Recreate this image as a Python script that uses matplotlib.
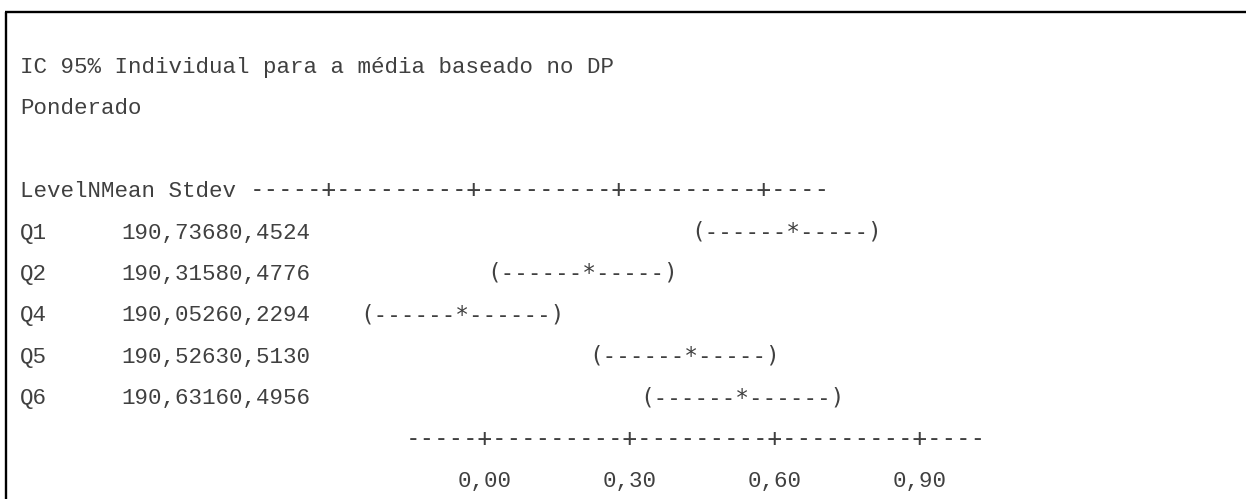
import matplotlib
matplotlib.use("Agg")
import matplotlib.pyplot as plt
from matplotlib import transforms

# Minitab one-way ANOVA text output: individual 95% CIs (pooled SD)
title_lines = ["IC 95% Individual para a média baseado no DP", "Ponderado"]
header_label = "LevelNMean Stdev "
axis_rule = "-----+---------+---------+---------+----"

levels = ["Q1", "Q2", "Q4", "Q5", "Q6"]
n_obs = [19, 19, 19, 19, 19]
means = [0.7368, 0.3158, 0.0526, 0.5263, 0.6316]
stdevs = [0.4524, 0.4776, 0.2294, 0.5130, 0.4956]
ci_marks = ["(------*-----)", "(------*-----)", "(------*------)",
            "(------*-----)", "(------*------)"]
ticks = [0.00, 0.30, 0.60, 0.90]

W, H, DPI = 1246, 499, 100
INK = "#404040"
MONO = "Liberation Mono"
CHART = "DejaVu Sans Mono"


def pt(px):
    return px * 72 / DPI


CW = 13.5          # px per char, text font
CW_RULE = 14.5     # px per char, scale rules
CW_CI = 13.6       # px per char, interval marks
FS = pt(CW / 0.600)
FS_RULE = pt(CW_RULE / 0.602)
FS_CI = pt(CW_CI / 0.602)

# row r sits on baseline 73 + 41.4*r px
ROW0, STEP = 73, 41.4
ROW_TOP, ROW_BOT = -ROW0 / STEP, (H - ROW0) / STEP

fig = plt.figure(figsize=(W / DPI, H / DPI), dpi=DPI)

# page axes: x in pixels, y in text rows
page = fig.add_axes([0, 0, 1, 1])
page.set_xlim(0, W)
page.set_ylim(ROW_BOT, ROW_TOP)
page.axis("off")

# chart axes: x in mean units, same rows
X0, PX_PER_UNIT = 485, 483
chart = fig.add_axes([0, 0, 1, 1])
chart.set_xlim(-X0 / PX_PER_UNIT, (W - X0) / PX_PER_UNIT)
chart.set_ylim(ROW_BOT, ROW_TOP)
chart.axis("off")

# frame: top and left rules only
y_top = (12 - ROW0) / STEP
page.plot([5, W], [y_top, y_top], color="black", lw=1.7, solid_capstyle="butt")
page.plot([6, 6], [y_top, ROW_BOT], color="black", lw=1.7, solid_capstyle="butt")

LEFT = 20
STATS_X = 121
CI_SHIFT = -3.3 * CW_RULE   # interval rows sit a few columns left of the scale


def put(ax, x, row, s, family=MONO, size=FS, dx=0):
    tr = transforms.offset_copy(ax.transData, fig=fig, x=dx, y=0, units="dots")
    ax.text(x, row, s, transform=tr, family=family, fontsize=size,
            color=INK, ha="left", va="baseline")


for i, line in enumerate(title_lines):
    put(page, LEFT, i, line)

# header row: the rule runs on straight after the column names
put(page, LEFT, 3, header_label)
put(page, LEFT, 3, axis_rule, family=CHART, size=FS_RULE,
    dx=len(header_label) * CW)

# one row per level: stats + interval centred on its mean
for k, (lev, n, m, sd, mark) in enumerate(zip(levels, n_obs, means, stdevs, ci_marks)):
    row = 4 + k
    put(page, LEFT, row, lev)
    stats = f"{n}{m:.4f}{sd:.4f}".replace(".", ",")
    put(page, STATS_X, row, stats)
    star = mark.index("*")
    put(chart, m, row, mark, family=CHART, size=FS_CI,
        dx=CI_SHIFT - (star + 0.5) * CW_CI)

# bottom scale: '+' marks sit on the tick values
first_plus = axis_rule.index("+")
put(chart, ticks[0], 9, axis_rule, family=CHART, size=FS_RULE,
    dx=-(first_plus + 0.5) * CW_RULE)
for t in ticks:
    lab = f"{t:.2f}".replace(".", ",")
    chart.text(t, 10, lab, family=MONO, fontsize=FS, color=INK,
               ha="center", va="baseline")

fig.savefig("out.png", dpi=DPI, facecolor="white")
